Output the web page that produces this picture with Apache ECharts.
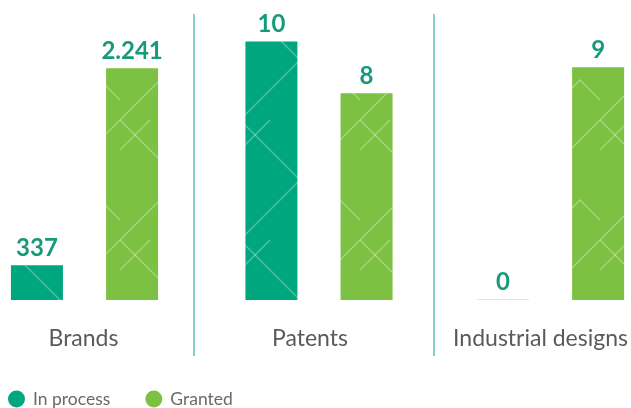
<!DOCTYPE html>
<html><head><meta charset="utf-8">
<script src="https://cdn.jsdelivr.net/npm/echarts@6/dist/echarts.min.js"></script>
<style>html,body{margin:0;padding:0;background:#fff}#c{width:631px;height:408px}</style>
</head><body><div id="c"></div>
<script>
const categories = ['Brands', 'Patents', 'Industrial designs'];
const inProcess = [337, 10, 0];
const granted = [2241, 8, 9];
const axisMax = [2500, 10, 10];
const seriesNames = ['In process', 'Granted'];

const TEAL = '#00a67e', GREEN = '#7dc142', LABEL = '#169a7a';

function pattern(base) {
  const s = 120, c = document.createElement('canvas');
  c.width = s; c.height = s;
  const g = c.getContext('2d');
  g.fillStyle = base; g.fillRect(0, 0, s, s);
  g.strokeStyle = 'rgba(255,255,255,0.30)'; g.lineWidth = 1.5;
  const seg = (pts) => { g.beginPath(); g.moveTo(pts[0][0], pts[0][1]); for (let i = 1; i < pts.length; i++) g.lineTo(pts[i][0], pts[i][1]); g.stroke(); };
  seg([[0, 0], [60, 60], [0, 120]]);
  seg([[120, 0], [90, 30]]);
  seg([[60, 120], [100, 80], [120, 100]]);
  seg([[30, 0], [0, 30]]);
  return { image: c, repeat: 'repeat' };
}
const tealPat = pattern(TEAL), greenPat = pattern(GREEN);

const fmt = v => String(v).replace(/\B(?=(\d{3})+(?!\d))/g, '.');

const grids = [
  { left: 0, width: 169 },
  { left: 220, width: 198 },
  { left: 471, width: 160 }
];
const labelPad = [[0, 2, 0, 0], [0, 18, 0, 0], [0, 20, 0, 0]];

const option = {
  animation: false,
  grid: grids.map(g => ({ left: g.left, width: g.width, top: 41.5, bottom: 108 })),
  xAxis: categories.map((c, i) => ({
    type: 'category', gridIndex: i, data: [c],
    axisLine: { show: false }, axisTick: { show: false },
    axisLabel: { margin: 27, fontSize: 23, color: '#5a5a5a', fontFamily: 'Lato', padding: labelPad[i] }
  })),
  yAxis: categories.map((c, i) => ({ type: 'value', gridIndex: i, min: 0, max: axisMax[i], show: false })),
  legend: {
    left: 8, top: 390, padding: 0, icon: 'circle', itemWidth: 17, itemHeight: 17, itemGap: 35,
    textStyle: { fontSize: 17.5, color: '#6a6a6a', fontFamily: 'Lato', padding: [0, 0, 0, 3] },
    data: [
      { name: seriesNames[0], itemStyle: { color: TEAL } },
      { name: seriesNames[1], itemStyle: { color: GREEN } }
    ]
  },
  graphic: [
    { type: 'line', shape: { x1: 194, y1: 14, x2: 194, y2: 356 }, style: { stroke: '#86d0cc', lineWidth: 2 } },
    { type: 'line', shape: { x1: 434, y1: 14, x2: 434, y2: 356 }, style: { stroke: '#86d0cc', lineWidth: 2 } }
  ],
  series: []
};

categories.forEach((c, i) => {
  const common = {
    type: 'bar', xAxisIndex: i, yAxisIndex: i, barWidth: 52, barGap: '83%',
    label: { show: true, position: 'top', distance: 5, fontSize: 24, fontWeight: 'bold', color: LABEL, fontFamily: 'Lato', formatter: p => fmt(p.value) }
  };
  const v0 = inProcess[i];
  option.series.push(Object.assign({}, common, {
    name: seriesNames[0], barMinHeight: 1,
    itemStyle: { color: tealPat },
    data: [v0 === 0 ? { value: v0, itemStyle: { color: '#d3eee8' } } : v0]
  }));
  option.series.push(Object.assign({}, common, {
    name: seriesNames[1],
    itemStyle: { color: greenPat },
    data: [granted[i]]
  }));
});

echarts.init(document.getElementById('c'), null, { renderer: 'canvas' }).setOption(option);
</script></body></html>
